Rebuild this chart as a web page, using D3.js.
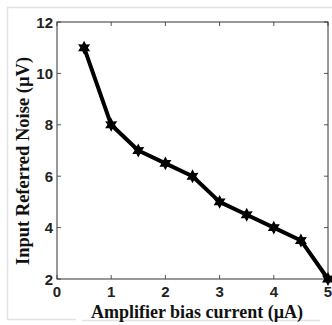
<!DOCTYPE html>
<html><head><meta charset="utf-8">
<script src="https://cdn.jsdelivr.net/npm/d3@7"></script>
<style>html,body{margin:0;padding:0;background:#fff;}svg{display:block;}</style>
</head><body>
<script>
const current = [0.5, 1, 1.5, 2, 2.5, 3, 3.5, 4, 4.5, 5];
const noise = [11, 8, 7, 6.5, 6, 5, 4.5, 4, 3.5, 2];
const xTicks = [0, 1, 2, 3, 4, 5];
const yTicks = [2, 4, 6, 8, 10, 12];

const W = 332, H = 325;
const m = {left: 57, top: 22, right: 328, bottom: 279};
const svg = d3.select("body").append("svg").attr("width", W).attr("height", H);

// faint outer frame
svg.append("path").attr("d", "M340,7.5 H7.5 V319.5 H76 M82,320.5 H320")
  .attr("fill", "none").attr("stroke", "#e2e2e2").attr("stroke-width", 1.5);

const x = d3.scaleLinear().domain([0, 5]).range([m.left, m.right]);
const y = d3.scaleLinear().domain([2, 12]).range([m.bottom, m.top]);

const tick = 4;
const g = svg.append("g");
xTicks.forEach(t => {
  g.append("line").attr("x1", x(t)).attr("x2", x(t)).attr("y1", m.bottom).attr("y2", m.bottom - tick).attr("stroke", "#555");
  g.append("line").attr("x1", x(t)).attr("x2", x(t)).attr("y1", m.top).attr("y2", m.top + tick).attr("stroke", "#555");
});
yTicks.forEach(t => {
  g.append("line").attr("x1", m.left).attr("x2", m.left + tick).attr("y1", y(t)).attr("y2", y(t)).attr("stroke", "#555");
  g.append("line").attr("x1", m.right).attr("x2", m.right - tick).attr("y1", y(t)).attr("y2", y(t)).attr("stroke", "#555");
});
g.append("rect").attr("x", m.left).attr("y", m.top).attr("width", m.right - m.left).attr("height", m.bottom - m.top)
  .attr("fill", "none").attr("stroke", "#333").attr("stroke-width", 1);

const tf = "'Liberation Sans', Arial, sans-serif";
xTicks.forEach(t => {
  svg.append("text").attr("x", x(t)).attr("y", 297).attr("text-anchor", "middle")
    .attr("font-family", tf).attr("font-weight", "bold").attr("font-size", 15).attr("fill", "#222").text(t);
});
yTicks.forEach(t => {
  svg.append("text").attr("x", 53).attr("y", y(t) + 5.5).attr("text-anchor", "end")
    .attr("font-family", tf).attr("font-weight", "bold").attr("font-size", 15).attr("fill", "#222").text(t);
});

const sf = "'Liberation Serif', 'Times New Roman', serif";
svg.append("text").attr("x", 197).attr("y", 318).attr("text-anchor", "middle")
  .attr("font-family", sf).attr("font-weight", "bold").attr("font-size", 18).attr("fill", "#111")
  .text("Amplifier bias current (µA)");
svg.append("text").attr("transform", "translate(29,161) rotate(-90)").attr("text-anchor", "middle")
  .attr("font-family", sf).attr("font-weight", "bold").attr("font-size", 18.5).attr("fill", "#111")
  .text("Input Referred Noise (µV)");

const pts = current.map((c, i) => [c, noise[i]]);
svg.append("path").datum(pts)
  .attr("d", d3.line().x(d => x(d[0])).y(d => y(d[1])))
  .attr("fill", "none").attr("stroke", "#000").attr("stroke-width", 4).attr("stroke-linejoin", "round");

// six-pointed star (hexagram) marker
const hexagram = {
  draw(ctx, size) {
    const R = Math.sqrt(size / 2.2), r = R * 0.55;
    for (let i = 0; i < 12; i++) {
      const a = -Math.PI / 2 + i * Math.PI / 6;
      const rr = i % 2 === 0 ? R : r;
      const px = rr * Math.cos(a), py = rr * Math.sin(a);
      if (i === 0) ctx.moveTo(px, py); else ctx.lineTo(px, py);
    }
    ctx.closePath();
  }
};
const star = d3.symbol().type(hexagram).size(70);
svg.selectAll("path.mk").data(pts).enter().append("path").attr("class", "mk")
  .attr("transform", d => `translate(${x(d[0])},${y(d[1])})`)
  .attr("d", star).attr("fill", "#000").attr("stroke", "#000").attr("stroke-width", 1.2);
</script>
</body></html>
